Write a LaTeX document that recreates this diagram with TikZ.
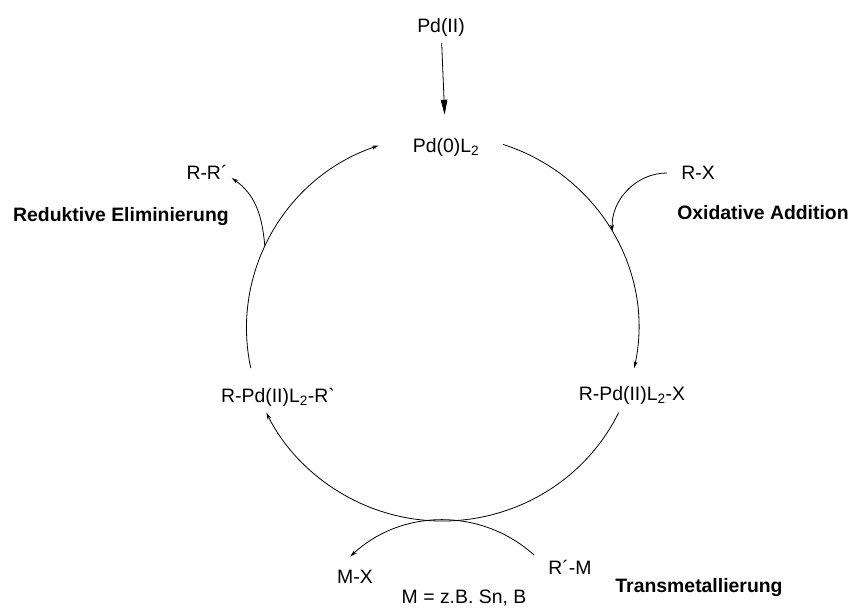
\documentclass[tikz,border=0pt]{standalone}
\usepackage{fontspec}
\setmainfont{Liberation Sans}[Ligatures=TeXOff]
\usetikzlibrary{arrows.meta}

\tikzset{
  lbl/.style={inner sep=2pt, font=\fontsize{19.4}{23}\selectfont},
  stage/.style={lbl, font=\fontsize{19.4}{23}\selectfont\bfseries},
  cyc/.style={line width=0.8pt, -{Stealth[length=7pt,width=4pt]}}
}

\begin{document}
\begin{tikzpicture}[x=1pt, y=1pt]
            \useasboundingbox (0,0) rectangle (850,609);

            \coordinate (c) at (442.5,281);
            \coordinate (tc) at (443,-47);

            \node[lbl] (pdii) at (441,582) {Pd(II)};
            \node[lbl] (pd0) at (446,462) {Pd(0)L\textsubscript{2}};
            \node[lbl] (pdx) at (632,214) {R-Pd(II)L\textsubscript{2}-X};
            \node[lbl] (pdr) at (278,212) {R-Pd(II)L\textsubscript{2}-R`};
            \node[lbl] (rr) at (207,437) {R-R´};
            \node[lbl] (rx) at (698,436) {R-X};
            \node[lbl] (mx) at (355,32) {M-X};
            \node[lbl] (rm) at (570,42) {R´-M};
            \node[lbl, anchor=base] (note) at (464,5) {M = z.B. Sn, B};
            \node[stage] (re) at (121,392) {Reduktive Eliminierung};
            \node[stage] (oa) at (763,396) {Oxidative Addition};
            \node[stage] (tm) at (699,21) {Transmetallierung};

            \coordinate (oapt) at ([shift={(30:196 and 193)}]c);
            \coordinate (rept) at ([shift={(155:196 and 193)}]c);

            \draw[line width=0.8pt, -{Triangle[length=15pt,width=6.5pt]}, shorten <=5pt, shorten >=21pt] (pdii) -- (pd0);

            \draw[cyc] ([shift={(72:196 and 193)}]c) arc[start angle=72, end angle=-12, x radius=196, y radius=193];
            \draw[cyc] ([shift={(-26:196 and 193)}]c) arc[start angle=-26, end angle=-154, x radius=196, y radius=193];
            \draw[cyc] ([shift={(192:196 and 193)}]c) arc[start angle=192, end angle=109, x radius=196, y radius=193];
            \draw[cyc] ([shift={(48:136)}]tc) arc[start angle=48, end angle=133, radius=136];

            \draw[cyc] ([xshift=-12]rx.west) to[out=180, in=92] (oapt);
            \draw[cyc] (rept) to[out=95, in=-35] ([shift={(2,-6)}]rr.east);
\end{tikzpicture}
\end{document}
